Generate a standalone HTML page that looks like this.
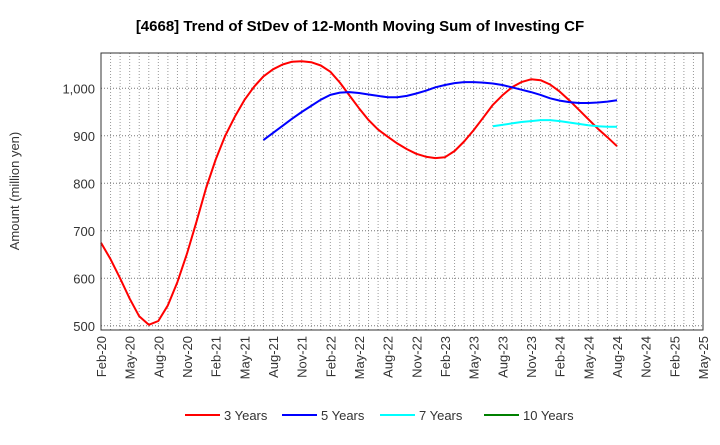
<!DOCTYPE html>
<html><head><meta charset="utf-8"><style>
body{margin:0;background:#fff;font-family:"Liberation Sans",Arial,sans-serif;}
svg text{font-family:"Liberation Sans",Arial,sans-serif;}
</style></head><body>
<svg id="chart" width="720" height="440" viewBox="0 0 720 440">
<text x="360" y="31" text-anchor="middle" font-size="15" font-weight="bold" fill="#000">[4668]  Trend of StDev of 12-Month Moving Sum of Investing CF</text>
<text transform="translate(19,191) rotate(-90)" text-anchor="middle" font-size="13" fill="#333">Amount (million yen)</text>
<g id="grid"></g>
<g id="yticks"></g>
<g id="xticks"></g>
<g id="series"></g>
<rect x="101" y="53" width="602" height="277" fill="none" stroke="#333" stroke-width="1"/>
<g>
<g><line x1="185" y1="415" x2="220" y2="415" stroke="#ff0000" stroke-width="2"/><text x="224" y="420" font-size="13" fill="#333">3 Years</text></g>
<g><line x1="282" y1="415" x2="317" y2="415" stroke="#0000ff" stroke-width="2"/><text x="321" y="420" font-size="13" fill="#333">5 Years</text></g>
<g><line x1="380" y1="415" x2="415" y2="415" stroke="#00ffff" stroke-width="2"/><text x="419" y="420" font-size="13" fill="#333">7 Years</text></g>
<g><line x1="484" y1="415" x2="519" y2="415" stroke="#008000" stroke-width="2"/><text x="523" y="420" font-size="13" fill="#333">10 Years</text></g>
</g>
</svg>
<script>
const yTicks=[500,600,700,800,900,1000];
const xLabels=["Feb-20","May-20","Aug-20","Nov-20","Feb-21","May-21","Aug-21","Nov-21","Feb-22","May-22","Aug-22","Nov-22","Feb-23","May-23","Aug-23","Nov-23","Feb-24","May-24","Aug-24","Nov-24","Feb-25","May-25"];
const red3=[675,640,600,557,520,502,510,543,592,652,720,
790,850,900,940,975,1003,1025,1040,1050,1056,1057,1055,
1048,1035,1012,985,958,933,913,898,884,872,862,856,
853,855,868,888,912,938,965,985,1002,1013,1019,1017,
1008,993,975,955,935,915,897,878];
const red3Start=0;
const blue5=[891,906,921,936,950,963,976,986,991,992,990,987,984,981,981,984,989,995,1002,1007,1011,1013,1013,1012,1010,1007,1002,997,992,986,979,974,971,969,969,970,972,975];
const blue5Start=17;
const cyan7=[920,923,926,929,931,933,933,931,928,925,922,920,919,919];
const cyan7Start=41;
const ns="http://www.w3.org/2000/svg";
const X0=101,X1=703,Y0=330,Y1=53,M0=0,M1=63,V0=491.1,V1=1074.3;
function xs(m){return X0+(m-M0)/(M1-M0)*(X1-X0);}
function ys(v){return Y0-(v-V0)/(V1-V0)*(Y0-Y1);}
const grid=document.getElementById('grid');
for(let m=1;m<M1;m++){
 const l=document.createElementNS(ns,'line');
 
 
 l.setAttribute('x1',xs(m));l.setAttribute('x2',xs(m));l.setAttribute('y1',Y1);l.setAttribute('y2',Y0);
 l.setAttribute('stroke','#999');l.setAttribute('stroke-dasharray','1,2');l.setAttribute('stroke-width','1');
 grid.appendChild(l);
}
const yg=document.getElementById('yticks');
yTicks.forEach(v=>{
 const l=document.createElementNS(ns,'line');
 
 
 l.setAttribute('x1',X0);l.setAttribute('x2',X1);l.setAttribute('y1',ys(v));l.setAttribute('y2',ys(v));
 l.setAttribute('stroke','#777');l.setAttribute('stroke-dasharray','1,2');
 grid.appendChild(l);
 const t=document.createElementNS(ns,'text');
 
 
 t.setAttribute('x',X0-6);t.setAttribute('y',ys(v)+5);t.setAttribute('text-anchor','end');
 t.setAttribute('font-size','13');t.setAttribute('fill','#333');
 t.textContent=v>=1000?v.toLocaleString('en-US'):String(v);
 yg.appendChild(t);
});
const xg=document.getElementById('xticks');
xLabels.forEach((s,i)=>{
 const x=xs(i*3);
 const t=document.createElementNS(ns,'text');
 
 
 t.setAttribute('transform','translate('+(x+5)+',336) rotate(-90)');
 t.setAttribute('text-anchor','end');t.setAttribute('font-size','13');t.setAttribute('fill','#333');
 t.textContent=s;
 xg.appendChild(t);
});
const sg=document.getElementById('series');
function draw(arr,start,color,name){
 const p=document.createElementNS(ns,'polyline');
 
 
 p.setAttribute('points',arr.map((v,i)=>xs(start+i).toFixed(1)+','+ys(v).toFixed(1)).join(' '));
 p.setAttribute('fill','none');p.setAttribute('stroke',color);p.setAttribute('stroke-width','2');
 p.setAttribute('stroke-linejoin','round');
 sg.appendChild(p);
}
draw(red3,red3Start,'#ff0000','line-3-years');
draw(blue5,blue5Start,'#0000ff','line-5-years');
draw(cyan7,cyan7Start,'#00ffff','line-7-years');
</script>
</body></html>
